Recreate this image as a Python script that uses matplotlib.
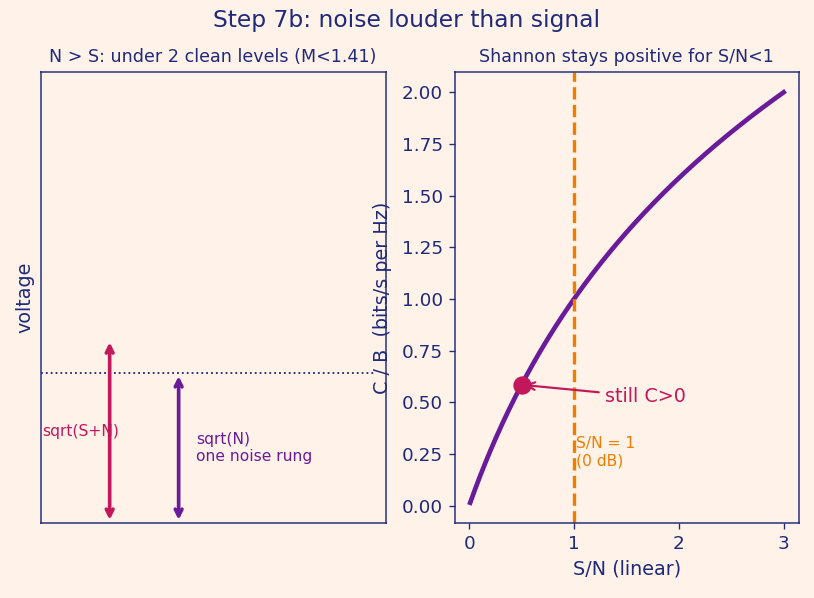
import matplotlib
matplotlib.use("Agg")
import matplotlib.pyplot as plt
import numpy as np

# signal / noise powers used in the left panel
S = 0.5
N = 1.0

# Shannon curve sampled on S/N
snr = np.linspace(0.01, 3, 300)
cap = np.log2(1 + snr)

point_snr = 0.5
point_cap = np.log2(1 + point_snr)

NAVY = "#1f2a7a"
RED = "#c2185b"
PURPLE = "#6a1b9a"
ORANGE = "#ef7d00"
BG = "#fff2e8"

plt.rcParams["font.family"] = "DejaVu Sans"

fig, (ax1, ax2) = plt.subplots(1, 2, figsize=(814 / 120, 598 / 120), dpi=120)
fig.patch.set_facecolor(BG)
fig.subplots_adjust(left=0.05, right=0.982, top=0.88, bottom=0.125, wspace=0.2)

for ax in (ax1, ax2):
    ax.set_facecolor(BG)
    for sp in ax.spines.values():
        sp.set_color(NAVY)
        sp.set_alpha(0.8)
        sp.set_linewidth(1.1)
    ax.tick_params(colors=NAVY, labelcolor=NAVY, labelsize=11)

fig.suptitle("Step 7b: noise louder than signal", color=NAVY, fontsize=14, y=0.985)

# left panel: voltage rungs
ax1.set_xlim(0, 1)
ax1.set_ylim(0, 3)
ax1.set_xticks([])
ax1.set_yticks([])
ax1.set_ylabel("voltage", color=NAVY, fontsize=11.5)
ax1.set_title("N > S: under 2 clean levels (M<1.41)", color=NAVY, fontsize=10.5)

ax1.hlines(np.sqrt(N), 0, 0.97, colors=NAVY, linestyles=":", linewidth=1.1)
ax1.annotate("", xy=(0.2, np.sqrt(S + N)), xytext=(0.2, 0),
             arrowprops=dict(arrowstyle="<->", color=RED, lw=2.2))
ax1.annotate("", xy=(0.4, np.sqrt(N)), xytext=(0.4, 0),
             arrowprops=dict(arrowstyle="<->", color=PURPLE, lw=2.2))
ax1.text(0.003, np.sqrt(S + N) / 2, "sqrt(S+N)", color=RED, fontsize=9.3,
         ha="left", va="center")
ax1.text(0.45, 0.5, "sqrt(N)\none noise rung", color=PURPLE, fontsize=9.3,
         ha="left", va="center")

# right panel: Shannon capacity
ax2.plot(snr, cap, color=PURPLE, lw=2.8)
ax2.axvline(1, color=ORANGE, ls="--", lw=2)
ax2.text(1.02, 0.18, "S/N = 1\n(0 dB)", color=ORANGE, fontsize=9.3, ha="left", va="bottom")
ax2.plot([point_snr], [point_cap], "o", color=RED, markersize=10)
ax2.annotate("still C>0", xy=(point_snr, point_cap), xytext=(1.3, 0.5),
             color=RED, fontsize=11.5,
             arrowprops=dict(arrowstyle="->", color=RED, lw=1.3))
ax2.set_xticks([0, 1, 2, 3])
ax2.set_xlabel("S/N (linear)", color=NAVY, fontsize=11.5)
ax2.set_ylabel("C / B  (bits/s per Hz)", color=NAVY, fontsize=11.5, labelpad=6)
ax2.set_title("Shannon stays positive for S/N<1", color=NAVY, fontsize=10.5)

fig.savefig("out.png", dpi=120, facecolor=BG)
